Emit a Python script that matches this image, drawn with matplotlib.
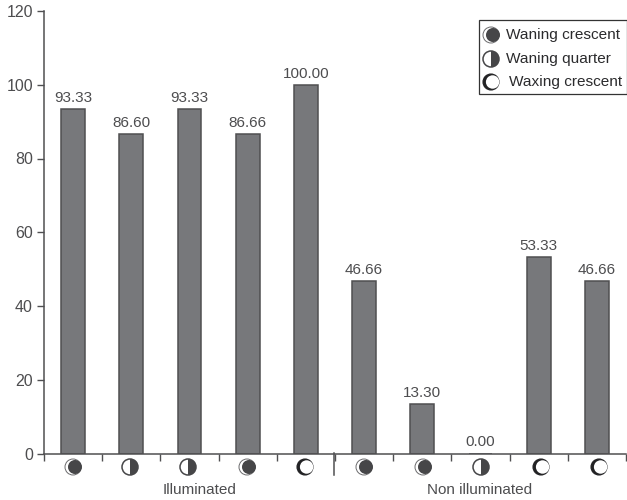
import matplotlib
matplotlib.use("Agg")
import matplotlib.pyplot as plt
from matplotlib.patches import Circle, Wedge, Rectangle

plt.rcParams["font.family"] = ["Liberation Sans", "DejaVu Sans"]

values = [93.33, 86.60, 93.33, 86.66, 100.00, 46.66, 13.30, 0.00, 53.33, 46.66]
value_labels = ["93.33", "86.60", "93.33", "86.66", "100.00", "46.66", "13.30", "0.00", "53.33", "46.66"]
phases = ["crescent", "quarter", "quarter", "crescent", "waxing", "crescent", "crescent", "quarter", "waxing", "waxing"]
y_ticks = [0, 20, 40, 60, 80, 100, 120]
group_labels = ["Illuminated", "Non illuminated"]
legend_labels = ["Waning crescent", "Waning quarter", "Waxing crescent"]
legend_phases = ["crescent", "quarter", "waxing"]

GREY = "#77787b"
EDGE = "#4f4f51"
DARK = "#464648"
TEXT = "#4d4d4f"


def moon(ax, x, y, kind, r=8, z=2):
    # icons are drawn in pixel coordinates on the overlay axes
    if kind == "crescent":
        ax.add_patch(Circle((x, y), r, fc="white", ec="#6a6a6c", lw=0.7, zorder=z))
        ax.add_patch(Circle((x + 2, y), r - 1, fc=DARK, ec=DARK, lw=0, zorder=z))
    elif kind == "quarter":
        ax.add_patch(Circle((x, y), r, fc="white", ec=DARK, lw=1.1, zorder=z))
        ax.add_patch(Wedge((x, y), r, -90, 90, fc=DARK, ec=DARK, lw=0, zorder=z))
    else:
        ax.add_patch(Circle((x, y), r, fc="#222224", ec="#222224", lw=0.8, zorder=z))
        ax.add_patch(Circle((x + 1.6, y), r - 1.3, fc="white", ec="none", zorder=z))


fig = plt.figure(figsize=(6.27, 5), dpi=100)
ax = fig.add_axes([44 / 627, 46.5 / 500, 582 / 627, 442.5 / 500])

positions = list(range(len(values)))
ax.bar(positions, values, width=0.41, color=GREY, edgecolor=EDGE, linewidth=1.1)
for pos, val, lab in zip(positions, values, value_labels):
    ax.text(pos, val + 1.1, lab, ha="center", va="bottom", fontsize=11, color=TEXT)

ax.set_xlim(-0.5, 9.5)
ax.set_ylim(0, 120)
ax.set_yticks(y_ticks)
ax.set_xticks([p - 0.5 for p in positions] + [9.5])
ax.set_xticklabels([])
ax.tick_params(axis="y", labelsize=11.5, labelcolor=TEXT, color=EDGE, length=5, width=1, pad=3)
ax.tick_params(axis="x", color=EDGE, length=5, width=1)
for side in ["top", "right"]:
    ax.spines[side].set_visible(False)
for side in ["left", "bottom"]:
    ax.spines[side].set_color(EDGE)
    ax.spines[side].set_linewidth(1.1)

# overlay in pixel coordinates for the moon icons and the legend box
over = fig.add_axes([0, 0, 1, 1], facecolor="none")
over.set_xlim(0, 627)
over.set_ylim(500, 0)
over.axis("off")

icon_x = [73, 130, 188, 247, 305, 364, 423, 481, 541, 599]
for x, kind in zip(icon_x, phases):
    moon(over, x, 467, kind)

over.plot([334, 334], [453, 475], color=EDGE, lw=1.1)
over.text(200, 490, group_labels[0], ha="center", va="center", fontsize=11, color=TEXT)
over.text(479.5, 490, group_labels[1], ha="center", va="center", fontsize=11, color=TEXT)

over.add_patch(Rectangle((479, 20), 147.5, 74, fc="white", ec="#333333", lw=0.9, zorder=3))
legend_y = [35, 59, 82]
legend_x = [506, 506, 509]
for y, x, lab in zip(legend_y, legend_x, legend_labels):
    over.text(x, y, lab, ha="left", va="center", fontsize=11.1, color="#2b2b2d", zorder=4)
for y, kind in zip(legend_y, legend_phases):
    moon(over, 491, y, kind, z=4)

fig.savefig("out.png", dpi=100)
